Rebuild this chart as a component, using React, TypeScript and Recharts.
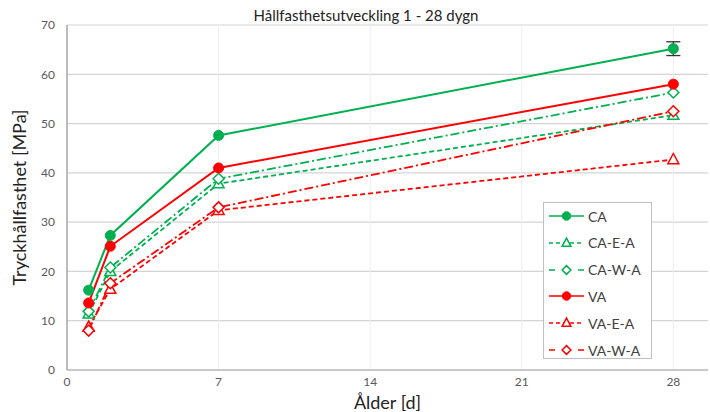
import React from 'react';
import {
  LineChart,
  Line,
  XAxis,
  YAxis,
  CartesianGrid,
  ErrorBar,
} from 'recharts';

const days = [1, 2, 7, 28];
const xTicks = [0, 7, 14, 21, 28];
const yTicks = [0, 10, 20, 30, 40, 50, 60, 70];

const ca = [16.2, 27.3, 47.6, 65.2];
const caEA = [11.4, 20.0, 37.8, 51.7];
const caWA = [11.9, 20.8, 38.8, 56.3];
const va = [13.6, 25.1, 41.0, 58.0];
const vaEA = [8.7, 16.4, 32.4, 42.7];
const vaWA = [8.0, 17.6, 33.0, 52.5];
const caErr28 = 1.4;

const data = days.map((d, i) => ({
  day: d,
  ca: ca[i],
  caEA: caEA[i],
  caWA: caWA[i],
  va: va[i],
  vaEA: vaEA[i],
  vaWA: vaWA[i],
}));

const errData = [{ day: days[3], ca: ca[3], err: caErr28 }];

const GREEN = '#00B050';
const RED = '#FF0000';
const FONT = 'Lato, sans-serif';

const series = [
  { key: 'caEA', name: 'CA-E-A', color: GREEN, dash: '5 3', shape: 'tri' },
  { key: 'caWA', name: 'CA-W-A', color: GREEN, dash: '9 3 2 3', shape: 'dia' },
  { key: 'vaEA', name: 'VA-E-A', color: RED, dash: '5 3', shape: 'tri' },
  { key: 'vaWA', name: 'VA-W-A', color: RED, dash: '9 3 2 3', shape: 'dia' },
  { key: 'ca', name: 'CA', color: GREEN, dash: undefined, shape: 'circle' },
  { key: 'va', name: 'VA', color: RED, dash: undefined, shape: 'circle' },
];

const legendOrder = ['ca', 'caEA', 'caWA', 'va', 'vaEA', 'vaWA'];

const Marker = ({ shape, color, cx, cy, r = 1 }: any) => {
  if (shape === 'circle') {
    return <circle cx={cx} cy={cy} r={5 * r} fill={color} stroke={color} />;
  }
  const s = 5.5 * r;
  if (shape === 'tri') {
    return (
      <polygon
        points={`${cx},${cy - s * 1.1} ${cx - s},${cy + s * 0.75} ${cx + s},${cy + s * 0.75}`}
        fill="#fff"
        stroke={color}
        strokeWidth={1.5}
      />
    );
  }
  return (
    <polygon
      points={`${cx},${cy - s} ${cx + s},${cy} ${cx},${cy + s} ${cx - s},${cy}`}
      fill="#fff"
      stroke={color}
      strokeWidth={1.5}
    />
  );
};

const makeDot = (shape: string, color: string) => (props: any) => (
  <Marker key={`${shape}-${color}-${props.index}`} shape={shape} color={color} cx={props.cx} cy={props.cy} />
);

const LegendBox = () => (
  <div
    style={{
      position: 'absolute',
      left: 543,
      top: 202,
      width: 109,
      height: 157,
      border: '1px solid #bfbfbf',
      background: '#fff',
      boxSizing: 'border-box',
      fontFamily: FONT,
      fontSize: 14,
      color: '#404040',
    }}
  >
    {legendOrder.map((k, i) => {
      const s = series.find((x) => x.key === k)!;
      return (
        <div key={k} style={{ position: 'absolute', left: 0, top: 2 + i * 26.8, height: 22, display: 'flex', alignItems: 'center' }}>
          <svg width={44} height={22} style={{ display: 'block' }}>
            <line x1={5} y1={11} x2={40} y2={11} stroke={s.color} strokeWidth={1.5} strokeDasharray={s.dash ? (s.shape === 'dia' ? '6 23 6 0' : '4 3') : undefined} />
            <Marker shape={s.shape} color={s.color} cx={22.5} cy={11} r={s.shape === 'circle' ? 0.85 : 0.8} />
          </svg>
          <span>{s.name}</span>
        </div>
      );
    })}
  </div>
);

export default function App() {
  return (
    <div style={{ position: 'absolute', left: 0, top: 0, width: 710, height: 412, background: '#fff' }}>
      <div
        style={{
          position: 'absolute',
          left: 0,
          width: 732,
          top: 6,
          textAlign: 'center',
          fontFamily: FONT,
          fontSize: 15,
          color: '#222',
          zIndex: 2,
        }}
      >
        Hållfasthetsutveckling 1 - 28 dygn
      </div>
      <LineChart width={710} height={412} data={data} margin={{ top: 25, right: 2, left: 27, bottom: 0 }}>
        <CartesianGrid vertical={false} stroke="#d4d4d4" strokeWidth={1.2} />
        <CartesianGrid horizontal={false} stroke="#eeeeee" verticalValues={[7, 14, 21, 28]} />
        <XAxis
          dataKey="day"
          type="number"
          domain={[0, 29.6]}
          ticks={xTicks}
          allowDataOverflow
          height={42}
          tickLine={false}
          tickMargin={1}
          axisLine={{ stroke: '#c8c8c8', strokeWidth: 2 }}
          tick={{ fontSize: 12, fill: '#595959', fontFamily: FONT }}
          label={{ value: 'Ålder [d]', position: 'insideBottom', offset: 0, dy: -3, fontSize: 18, fill: '#222', fontFamily: FONT }}
        />
        <YAxis
          type="number"
          domain={[0, 70]}
          ticks={yTicks}
          width={40}
          tickLine={false}
          tickMargin={6}
          axisLine={{ stroke: '#a6a6a6', strokeWidth: 1.5 }}
          tick={{ fontSize: 12, fill: '#595959', fontFamily: FONT }}
          label={{ value: 'Tryckhållfasthet [MPa]', angle: -90, position: 'center', dx: -27, fontSize: 18, fill: '#222', fontFamily: FONT }}
        />
        <Line
          data={errData}
          dataKey="ca"
          stroke="none"
          dot={false}
          activeDot={false}
          legendType="none"
          isAnimationActive={false}
        >
          <ErrorBar dataKey="err" width={7} stroke="#333" strokeWidth={1.3} direction="y" />
        </Line>
        {series.map((s) => (
          <Line
            key={s.key}
            dataKey={s.key}
            name={s.name}
            type="linear"
            stroke={s.color}
            strokeWidth={s.shape === 'circle' ? 2 : 1.8}
            strokeDasharray={s.dash}
            dot={makeDot(s.shape, s.color)}
            activeDot={false}
            isAnimationActive={false}
          />
        ))}
      </LineChart>
      <LegendBox />
    </div>
  );
}
